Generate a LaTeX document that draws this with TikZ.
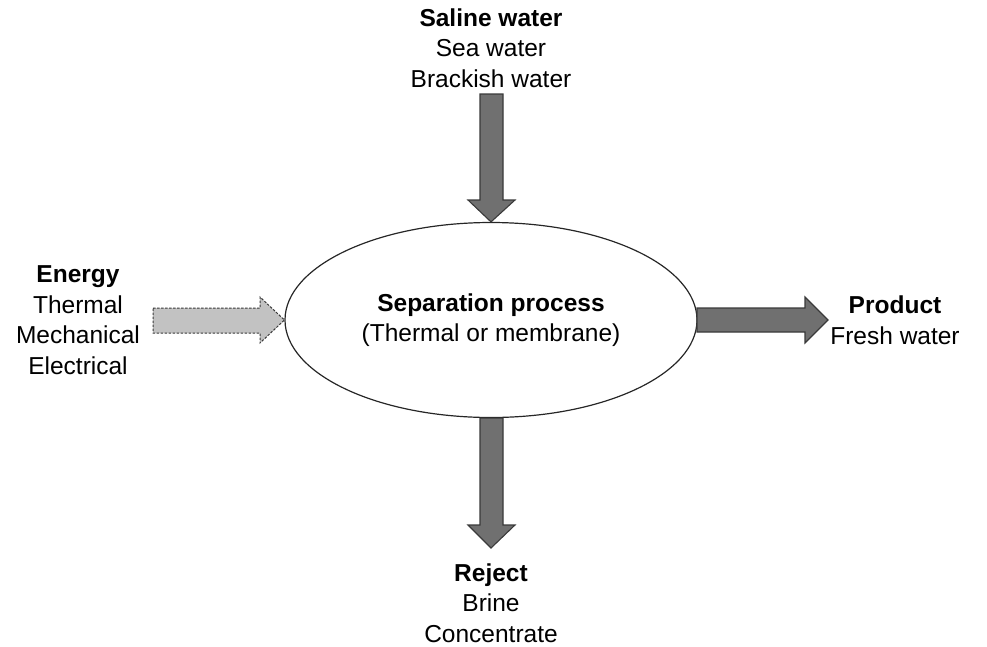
\documentclass[tikz,border=0pt]{standalone}
\usepackage{fontspec}
\setmainfont{Liberation Sans}
\usetikzlibrary{shapes.geometric}
\definecolor{flowfill}{HTML}{707070}
\definecolor{flowline}{HTML}{3A3A3A}
\definecolor{energyfill}{HTML}{C2C2C2}
\begin{document}
\begin{tikzpicture}[x=1pt,y=-1pt,
  lbl/.style={align=center,font=\fontsize{24.5}{30.5}\selectfont,inner sep=0pt},
  flow/.style={fill=flowfill,draw=flowline,line width=1.1pt,line join=miter},
  energyflow/.style={fill=energyfill,draw=flowline,line width=1pt,dashed,dash pattern=on 2.5pt off 1.5pt},
  procbox/.style={ellipse,draw=black!85,line width=1.2pt,minimum width=412pt,minimum height=195pt,inner sep=0pt}]
\useasboundingbox (0,0) rectangle (987,646);

% central process
\node[procbox] (proc) at (491,320) {};
\node[lbl] (proctext) at (491,320) {\textbf{Separation process}\\(Thermal or membrane)};

% labels of the four streams
\node[lbl] (saline) at (491,48) {\textbf{Saline water}\\Sea water\\Brackish water};
\node[lbl] (energy) at (78,320) {\textbf{Energy}\\Thermal\\Mechanical\\Electrical};
\node[lbl] (product) at (895,320) {\textbf{Product}\\Fresh water};
\node[lbl] (reject) at (491,603) {\textbf{Reject}\\Brine\\Concentrate};

% saline water in (downwards into the top of the ellipse)
\draw[flow] (480,94) -- (503,94) -- (503,200) -- (515,200) -- (proc.north)
  -- (468,200) -- (480,200) -- cycle;

% reject out (downwards from the bottom of the ellipse)
\draw[flow] (proc.south) ++(-11,0) coordinate (rl) -- ++(23,0) -- (503,525) -- (515,525)
  -- (491,548) -- (468,525) -- (480,525) -- cycle;

% product out (to the right)
\draw[flow] (697,308) -- (805,308) -- (805,297) -- (828,320) -- (805,343)
  -- (805,332) -- (697,332) -- cycle;

% energy in (dashed, light)
\draw[energyflow] (153,308) -- (260,308) -- (260,297) -- (proc.west) -- (260,343)
  -- (260,333) -- (153,333) -- cycle;
\end{tikzpicture}
\end{document}
